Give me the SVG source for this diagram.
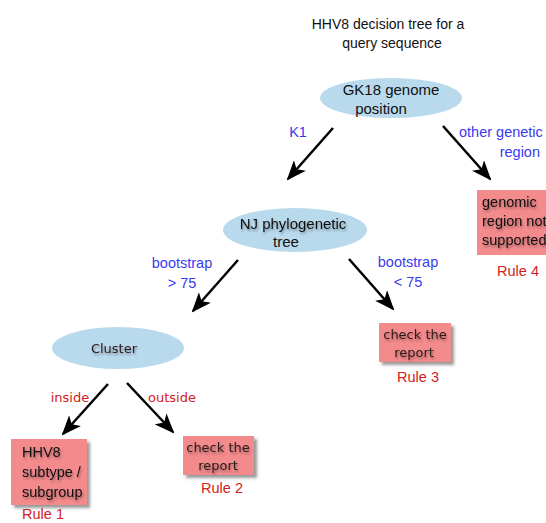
<svg xmlns="http://www.w3.org/2000/svg" width="546" height="523" viewBox="0 0 546 523">
<defs>
<marker id="ah" viewBox="0 0 20 16" refX="18" refY="8" markerWidth="20" markerHeight="16" markerUnits="userSpaceOnUse" orient="auto">
<path d="M0,0 L20,8 L0,16 L5,8 Z" fill="#000"/>
</marker>
<filter id="bs" x="-20%" y="-20%" width="150%" height="150%">
<feGaussianBlur in="SourceAlpha" stdDeviation="1.5"/>
<feOffset dx="3" dy="3" result="b"/>
<feFlood flood-color="#555" flood-opacity="0.6"/>
<feComposite in2="b" operator="in"/>
<feMerge><feMergeNode/><feMergeNode in="SourceGraphic"/></feMerge>
</filter>
<filter id="ts" x="-10%" y="-30%" width="130%" height="180%">
<feGaussianBlur in="SourceAlpha" stdDeviation="1"/>
<feOffset dx="1" dy="2" result="b"/>
<feFlood flood-color="#000" flood-opacity="0.35"/>
<feComposite in2="b" operator="in"/>
<feMerge><feMergeNode/><feMergeNode in="SourceGraphic"/></feMerge>
</filter>
</defs>
<style>
text{font-family:"Liberation Sans",Arial,sans-serif;font-size:14.5px;fill:#111}
.ell{fill:#b9d9ec}
.box{fill:#f38a8c}
.hum{font-family:"DejaVu Sans","Open Sans",sans-serif;font-size:13px;fill:#2a1a1a}
.blue{fill:#3a3af0}
.red{fill:#d42020}
.node{font-size:15px}
.edge{stroke:#000;stroke-width:2.5;fill:none;marker-end:url(#ah)}
</style>
<rect width="546" height="523" fill="#fff"/>
<g id="title">
<text x="388" y="29" text-anchor="middle" style="font-size:14px">HHV8 decision tree for a</text>
<text x="392" y="48" text-anchor="middle" style="font-size:14px">query sequence</text>
</g>
<g id="connectors">
<line class="edge" x1="333" y1="128" x2="288" y2="179"/>
<line class="edge" x1="443" y1="126" x2="490" y2="179"/>
<line class="edge" x1="238" y1="260" x2="193" y2="311"/>
<line class="edge" x1="349" y1="259" x2="393" y2="309"/>
<line class="edge" x1="108" y1="384" x2="63" y2="434"/>
<line class="edge" x1="127" y1="383" x2="173" y2="432"/>
<text class="blue" x="298" y="137" text-anchor="middle">K1</text>
<text class="blue" x="459" y="137">other genetic</text>
<text class="blue" x="540" y="157" text-anchor="end">region</text>
<text class="blue" x="182" y="268" text-anchor="middle">bootstrap</text>
<text class="blue" x="182" y="288" text-anchor="middle">&gt; 75</text>
<text class="blue" x="408" y="267" text-anchor="middle">bootstrap</text>
<text class="blue" x="408" y="287" text-anchor="middle">&lt; 75</text>
<text class="hum red" x="70" y="402" text-anchor="middle">inside</text>
<text class="hum red" x="172" y="402" text-anchor="middle">outside</text>
</g>
<g id="gk18">
<ellipse class="ell" cx="391" cy="98" rx="71" ry="20"/>
<text class="node" x="391" y="95" text-anchor="middle">GK18 genome</text>
<text class="node" x="381" y="114" text-anchor="middle">position</text>
</g>
<g id="nj">
<ellipse class="ell" cx="295" cy="230" rx="72" ry="22"/>
<text class="node" x="293" y="229" text-anchor="middle" filter="url(#ts)">NJ phylogenetic</text>
<text class="node" x="286" y="247" text-anchor="middle">tree</text>
</g>
<g id="cluster">
<ellipse class="ell" cx="118" cy="348" rx="66" ry="21"/>
<text class="hum" x="114" y="353" text-anchor="middle" filter="url(#ts)">Cluster</text>
</g>
<g id="rule4">
<rect class="box" x="477" y="190" width="70" height="65"/>
<text x="482" y="207" filter="url(#ts)">genomic</text>
<text x="482" y="226" filter="url(#ts)">region not</text>
<text x="482" y="245" filter="url(#ts)">supported</text>
<text class="red" x="518" y="276" text-anchor="middle">Rule 4</text>
</g>
<g id="rule3">
<rect class="box" x="379" y="323" width="72" height="39" filter="url(#bs)"/>
<text class="hum" x="415" y="339" text-anchor="middle" filter="url(#ts)">check the</text>
<text class="hum" x="414" y="357" text-anchor="middle" filter="url(#ts)">report</text>
<text class="red" x="418" y="382" text-anchor="middle">Rule 3</text>
</g>
<g id="rule1">
<rect class="box" x="11" y="439" width="76" height="66" filter="url(#bs)"/>
<text x="22" y="457" filter="url(#ts)">HHV8</text>
<text x="22" y="477" filter="url(#ts)">subtype /</text>
<text x="22" y="497" filter="url(#ts)">subgroup</text>
<text class="red" x="43" y="519" text-anchor="middle">Rule 1</text>
</g>
<g id="rule2">
<rect class="box" x="183" y="436" width="71" height="39" filter="url(#bs)"/>
<text class="hum" x="218" y="452" text-anchor="middle" filter="url(#ts)">check the</text>
<text class="hum" x="218" y="470" text-anchor="middle" filter="url(#ts)">report</text>
<text class="red" x="222" y="493" text-anchor="middle">Rule 2</text>
</g>
</svg>
